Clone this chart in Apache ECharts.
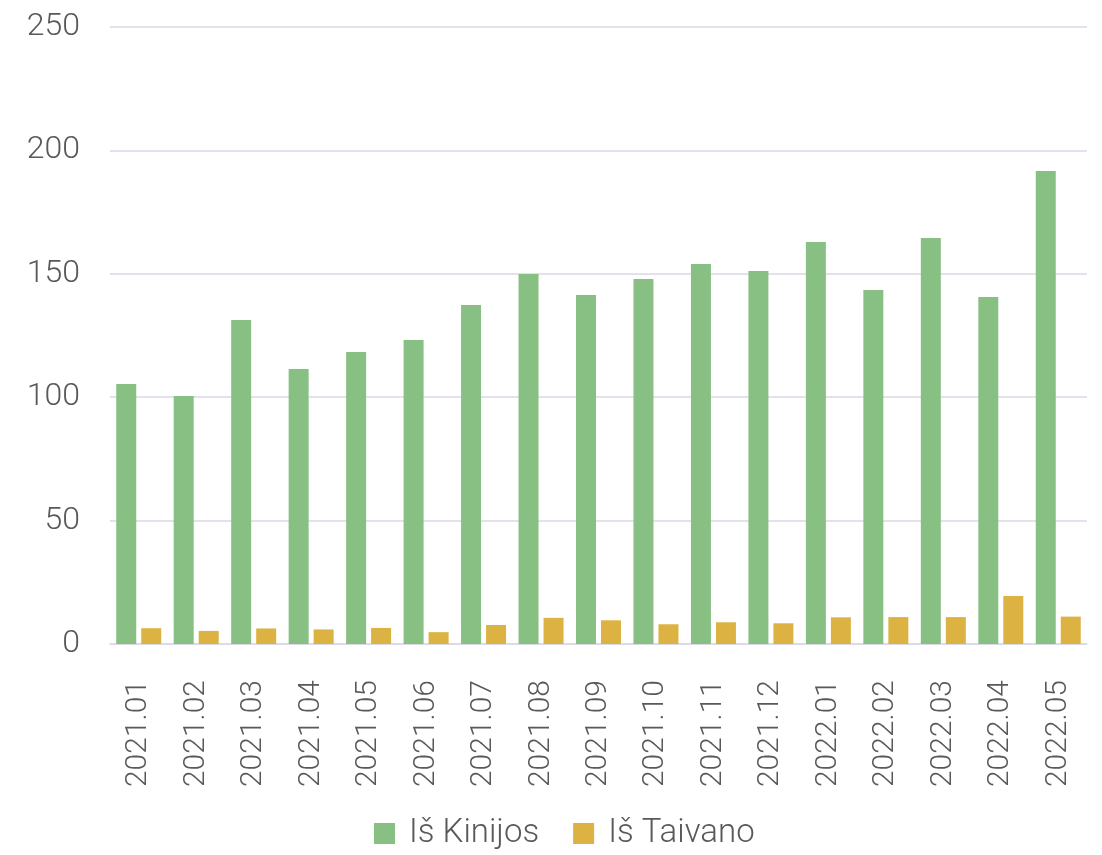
<!DOCTYPE html>
<html>
<head>
<meta charset="utf-8">
<script src="https://cdn.jsdelivr.net/npm/echarts@6/dist/echarts.min.js"></script>
<style>
  html, body { margin: 0; padding: 0; background: #fff; }
  #chart { width: 1102px; height: 855px; }
</style>
</head>
<body>
<div id="chart"></div>
<script>
const categories = ['2021.01', '2021.02', '2021.03', '2021.04', '2021.05', '2021.06', '2021.07', '2021.08', '2021.09',
  '2021.10', '2021.11', '2021.12', '2022.01', '2022.02', '2022.03', '2022.04', '2022.05']
const fromChina = [105.3, 100.5, 131.3, 111.4, 118.3, 123.2, 137.4, 149.9, 141.4, 147.9, 154.0, 151.1, 162.9, 143.4, 164.5, 140.6, 191.7]
const fromTaiwan = [6.4, 5.3, 6.3, 5.9, 6.5, 4.8, 7.7, 10.6, 9.6, 8.0, 8.8, 8.4, 10.8, 10.9, 10.9, 19.4, 11.1]
const seriesNames = ['Iš Kinijos', 'Iš Taivano']

const textColor = '#595959'
const fontFamily = 'Roboto, "Noto Sans", sans-serif'

const chart = echarts.init(document.getElementById('chart'))
chart.setOption({
  animation: false,
  textStyle: { fontFamily: fontFamily, fontWeight: 300 },
  grid: {
    left: 110,
    right: 15,
    top: 27,
    bottom: 211
  },
  legend: {
    data: seriesNames,
    bottom: 0,
    left: 369,
    itemWidth: 21,
    itemHeight: 21,
    itemGap: 34,
    icon: 'rect',
    textStyle: { fontSize: 33, color: textColor, fontWeight: 300, fontFamily: fontFamily, padding: [0, 0, 0, 9] }
  },
  xAxis: {
    type: 'category',
    data: categories,
    axisTick: { show: false },
    axisLine: { lineStyle: { color: '#d9d9e6', width: 1.5 } },
    axisLabel: {
      rotate: 90,
      fontSize: 30,
      color: textColor,
      fontWeight: 300,
      fontFamily: fontFamily,
      margin: 36
    }
  },
  yAxis: {
    type: 'value',
    min: 0,
    max: 250,
    interval: 50,
    axisLine: { show: false },
    axisTick: { show: false },
    splitLine: { lineStyle: { color: '#d9d9e6', width: 1.5 } },
    axisLabel: {
      fontSize: 32,
      color: textColor,
      fontWeight: 300,
      fontFamily: fontFamily,
      margin: 30
    }
  },
  series: [
    {
      name: seriesNames[0],
      type: 'bar',
      data: fromChina,
      barWidth: 20,
      barGap: '25%',
      itemStyle: { color: '#88c084' }
    },
    {
      name: seriesNames[1],
      type: 'bar',
      data: fromTaiwan,
      barWidth: 20,
      itemStyle: { color: '#dcb242' }
    }
  ]
})
</script>
</body>
</html>
